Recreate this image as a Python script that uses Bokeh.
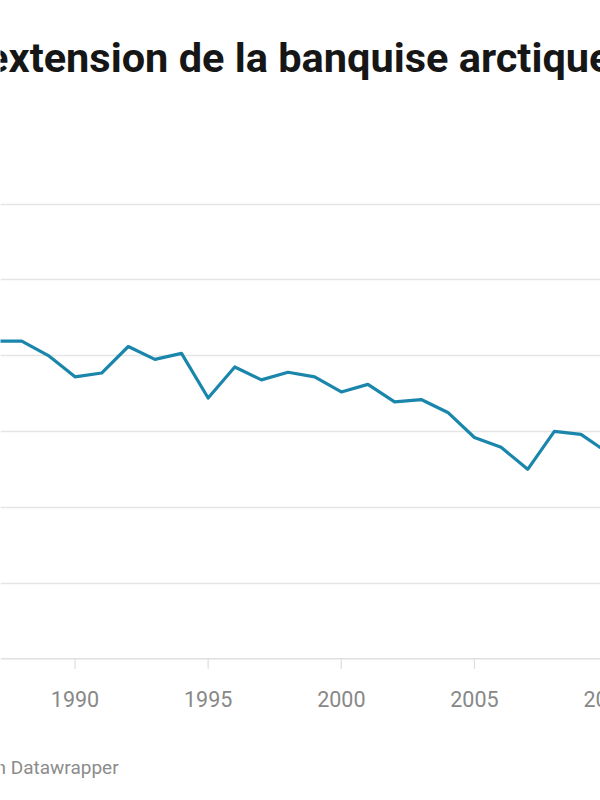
from bokeh.plotting import figure
from bokeh.models import Range1d, FixedTicker, Label, ColumnDataSource, Grid, Span
from bokeh.core.properties import value
from bokeh.embed import file_html
from bokeh.resources import INLINE

# Data (million km², approximate)
years = [1987, 1988, 1989, 1990, 1991, 1992, 1993, 1994, 1995, 1996, 1997, 1998,
         1999, 2000, 2001, 2002, 2003, 2004, 2005, 2006, 2007, 2008, 2009, 2010]
extent = [12.19, 12.19, 12.00, 11.72, 11.77, 12.12, 11.95, 12.03, 11.44, 11.85, 11.68, 11.78,
          11.72, 11.52, 11.62, 11.39, 11.42, 11.25, 10.92, 10.79, 10.50, 11.00, 10.96, 10.72]
x_ticks = [1990, 1995, 2000, 2005, 2010]
x_tick_labels = ["1990", "1995", "2000", "2005", "2010"]
y_grid = [9, 10, 11, 12, 13, 14]
y_base = 8
title_text = "extension de la banquise arctique"
footer_text = "n Datawrapper"

# Layout (pixels)
W, H = 600, 800
px_per_year = 26.63
px_per_unit = 75.8
x_anchor_px = 74.5      # where 1990 sits
y_base_px = 658.3       # where the baseline sits

x0 = 1990 - x_anchor_px / px_per_year
x1 = x0 + W / px_per_year
y1 = y_base + y_base_px / px_per_unit
y0 = y_base - (H - y_base_px) / px_per_unit

def xd(px):
    return x0 + px / px_per_year

def yd(py):
    return y_base + (y_base_px - py) / px_per_unit

p = figure(width=W, height=H, output_backend="svg", toolbar_location=None,
           x_range=Range1d(x0, x1), y_range=Range1d(y0, y1),
           x_axis_location=None, y_axis_location=None,
           min_border=0, min_border_left=0, min_border_right=0,
           min_border_top=0, min_border_bottom=0)
p.outline_line_color = None
p.background_fill_color = "white"
p.border_fill_color = "white"
p.xgrid.visible = False
p.ygrid.visible = False
p.add_layout(Grid(dimension=1, ticker=FixedTicker(ticks=y_grid),
                  grid_line_color="#e5e5e5", grid_line_width=1.3))

# baseline (x axis line)
p.add_layout(Span(location=y_base, dimension="width", line_color="#e0e0e0",
                  line_width=1.5))
# tick marks
tick_len = 10 / px_per_unit
p.segment(x0=x_ticks, y0=[y_base] * len(x_ticks), x1=x_ticks,
          y1=[y_base - tick_len] * len(x_ticks), line_color="#e0e0e0", line_width=1.3)
# tick labels
p.text(x=x_ticks, y=[yd(698.3)] * len(x_ticks), text=x_tick_labels,
       text_font=value("Roboto"), text_font_size="21.5px", text_color="#888888",
       text_align="center", text_baseline="alphabetic")

src = ColumnDataSource(data=dict(year=years, extent=extent))
p.line("year", "extent", source=src, line_color="#1a86ab", line_width=3.2,
       line_join="round")

p.add_layout(Label(x=xd(-14.4), y=yd(57), text=title_text, text_font="Roboto",
                   text_font_style="bold", text_font_size="41.5px", text_color="#161616",
                   text_baseline="alphabetic", text_align="left"))
p.add_layout(Label(x=xd(-5), y=yd(766.7), text=footer_text, text_font="Roboto",
                   text_font_size="19px", text_color="#8c8c8c",
                   text_baseline="alphabetic", text_align="left"))

open("out.html", "w").write(file_html(p, INLINE))
